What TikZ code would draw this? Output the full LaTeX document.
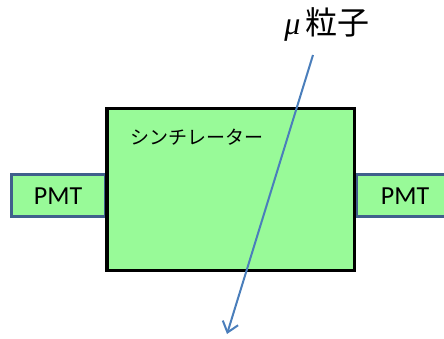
\documentclass[tikz,border=0pt]{standalone}
\usepackage{fontspec}
\setmainfont{Carlito}
\newfontfamily\jpfont{Noto Sans CJK JP}
\newfontfamily\greekfont{Liberation Serif}
\usetikzlibrary{arrows.meta}
\definecolor{scintgreen}{RGB}{152,250,152}
\definecolor{pmtedge}{RGB}{64,96,140}
\definecolor{trackblue}{RGB}{74,126,187}
\tikzset{
  pmtbox/.style={draw=pmtedge, fill=scintgreen, line width=3.2pt},
  scintbox/.style={draw=black, fill=scintgreen, line width=3.5pt},
  pmtlabel/.style={font=\fontsize{26}{28}\selectfont, text=black},
  track/.style={draw=trackblue, line width=2pt, -{Straight Barb[length=10pt,width=16pt]}}
}
\begin{document}
\begin{tikzpicture}[x=1pt,y=-1pt]
  \useasboundingbox (0,0) rectangle (444,338);
  % photomultiplier tubes on both sides
  \draw[pmtbox] (11.5,174.5) rectangle (106,216.5);
  \draw[pmtbox] (356,174.5) rectangle (448,216.5);
  % scintillator block
  \draw[scintbox] (107,108.5) rectangle (354.5,270.5);
  \node[pmtlabel] (pmtL) at (58,196) {PMT};
  \node[pmtlabel] (pmtR) at (405,196) {PMT};
  \node[font=\jpfont\fontsize{19}{21}\selectfont] (scint) at (197,137) {シンチレーター};
  % muon track
  \node[font=\fontsize{32}{34}\selectfont] (mu) at (327,24) {{\greekfont\itshape μ}\,{\jpfont 粒子}};
  \coordinate (trackStart) at (313,55);
  \coordinate (trackEnd) at (227,334);
  \draw[track] (trackStart) -- (trackEnd);
\end{tikzpicture}
\end{document}
